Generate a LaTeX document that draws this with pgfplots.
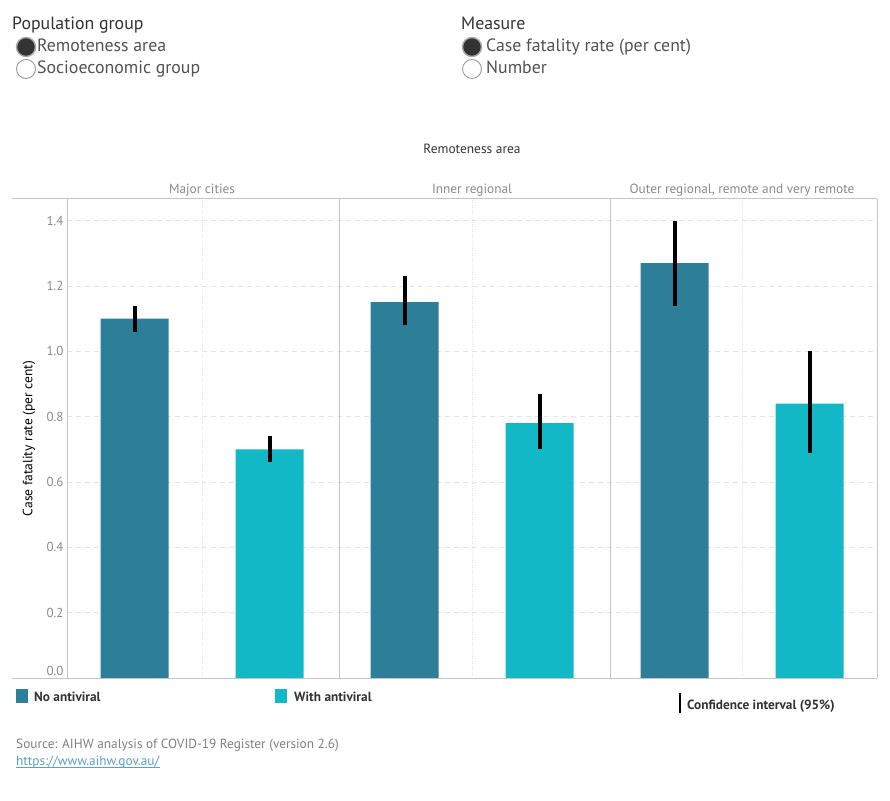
\documentclass[border=0pt]{standalone}
\usepackage{pgfplots}
\pgfplotsset{compat=1.18}
\usepackage{pgfplotstable}
\usepackage{fontspec}
\setmainfont{PT Sans}

\definecolor{noav}{HTML}{2D7E99}
\definecolor{withav}{HTML}{13B8C6}
\definecolor{frame}{HTML}{C4C4C4}
\definecolor{gridc}{HTML}{E4E4E4}
\definecolor{ticktext}{HTML}{8A8A8A}
\definecolor{headtext}{HTML}{333333}
\definecolor{linkc}{HTML}{5A9FC8}

% Case fatality rate (per cent) with 95% confidence limits
% x: panel position (two slots per remoteness area)
\pgfplotstableread{
x    y     lo    hi
0.5  1.10  1.06  1.14
2.5  1.15  1.08  1.23
4.5  1.27  1.14  1.40
}\noantiviral
\pgfplotstableread{
x    y     lo    hi
1.5  0.70  0.66  0.74
3.5  0.78  0.70  0.87
5.5  0.84  0.69  1.00
}\withantiviral

\pgfplotstablecreatecol[expr={\thisrow{hi}-\thisrow{y}}]{ep}{\noantiviral}
\pgfplotstablecreatecol[expr={\thisrow{y}-\thisrow{lo}}]{em}{\noantiviral}
\pgfplotstablecreatecol[expr={\thisrow{hi}-\thisrow{y}}]{ep}{\withantiviral}
\pgfplotstablecreatecol[expr={\thisrow{y}-\thisrow{lo}}]{em}{\withantiviral}

\begin{document}
\begin{tikzpicture}[x=1pt,y=1pt]
\useasboundingbox (0,0) rectangle (890,800);

% parameter controls
\node[anchor=base west,inner sep=0,font=\fontsize{17.8}{20}\selectfont,text=headtext] at (12,770) {Population group};
\node[anchor=base west,inner sep=0,font=\fontsize{17.8}{20}\selectfont,text=headtext!85] at (37,748) {Remoteness area};
\node[anchor=base west,inner sep=0,font=\fontsize{17.8}{20}\selectfont,text=headtext!85] at (37,726) {Socioeconomic group};
\draw[gray!70,fill=headtext,line width=1.4pt] (26,753) circle (9.5);
\draw[gray!80,fill=white,line width=0.9pt] (26,731) circle (9.5);

\node[anchor=base west,inner sep=0,font=\fontsize{17.8}{20}\selectfont,text=headtext] at (461,770) {Measure};
\node[anchor=base west,inner sep=0,font=\fontsize{17.8}{20}\selectfont,text=headtext!85] at (486,748) {Case fatality rate (per cent)};
\node[anchor=base west,inner sep=0,font=\fontsize{17.8}{20}\selectfont,text=headtext!85] at (486,726) {Number};
\draw[gray!70,fill=headtext,line width=1.4pt] (472,753) circle (9.5);
\draw[gray!80,fill=white,line width=0.9pt] (472,731) circle (9.5);

% chart heading and panel headers
\node[anchor=base,inner sep=0,font=\fontsize{13.4}{15}\selectfont,text=headtext] at (472,646) {Remoteness area};
\node[anchor=base,inner sep=0,font=\fontsize{13.3}{15}\selectfont,text=ticktext] at (202,606) {Major cities};
\node[anchor=base,inner sep=0,font=\fontsize{13.3}{15}\selectfont,text=ticktext] at (472,606) {Inner regional};
\node[anchor=base,inner sep=0,font=\fontsize{13.3}{15}\selectfont,text=ticktext] at (742,606) {Outer regional, remote and very remote};

\begin{axis}[
  at={(67pt,122pt)}, anchor=south west,
  scale only axis, width=810pt, height=479pt,
  xmin=0, xmax=6, ymin=0, ymax=1.466,
  axis line style={draw=none},
  major tick length=0pt,
  xtick={1,3,5}, xticklabels={},
  ytick={0,0.2,0.4,0.6,0.8,1.0,1.2,1.4},
  yticklabels={\raisebox{15pt}{0.0},0.2,0.4,0.6,0.8,1.0,1.2,1.4},
  xmajorgrids, ymajorgrids,
  x grid style={gridc, dotted, line width=0.8pt},
  y grid style={gridc, dashed, line width=0.8pt, dash pattern=on 5pt off 4pt},
  yticklabel style={text=ticktext, font=\fontsize{13}{15}\selectfont},
  ylabel={Case fatality rate (per cent)},
  ylabel style={at={(axis description cs:-0.0469,0.5)}, anchor=center,
    font=\fontsize{13.5}{15}\selectfont, text=black},
  ybar, bar width=68pt, bar shift=0pt,
  clip=false,
]
\addplot[fill=noav, draw=none,
  error bars/.cd, y dir=both, y explicit, error mark=none,
  error bar style={line width=4pt, black}]
  table[x=x, y=y, y error plus=ep, y error minus=em] {\noantiviral};
\addplot[fill=withav, draw=none,
  error bars/.cd, y dir=both, y explicit, error mark=none,
  error bar style={line width=4pt, black}]
  table[x=x, y=y, y error plus=ep, y error minus=em] {\withantiviral};
\end{axis}

% panel frame
\draw[frame, line width=1pt] (12,601) -- (877,601);
\draw[frame, line width=1pt] (12,122) -- (877,122);
\foreach \xx in {67,339,610,877} \draw[frame, line width=1pt] (\xx,122) -- (\xx,601);

% legend
\fill[noav] (16,97) rectangle (28,111);
\node[anchor=base west,inner sep=0,font=\fontsize{13.3}{15}\selectfont\bfseries,text=headtext] at (34,99) {No antiviral};
\fill[withav] (275,97) rectangle (287,111);
\node[anchor=base west,inner sep=0,font=\fontsize{13.3}{15}\selectfont\bfseries,text=headtext] at (294,99) {With antiviral};
\draw[black, line width=2pt] (680,87) -- (680,107);
\node[anchor=base west,inner sep=0,font=\fontsize{13.3}{15}\selectfont\bfseries,text=headtext] at (687,91) {Confidence interval (95\%)};

% source note
\node[anchor=base west,inner sep=0,font=\fontsize{13.3}{15}\selectfont,text=gray] at (16,52) {Source: AIHW analysis of COVID-19 Register (version 2.6)};
\node[anchor=base west,inner sep=0,font=\fontsize{13.3}{15}\selectfont,text=linkc] (url) at (16,35) {https://www.aihw.gov.au/};
\draw[linkc, line width=0.6pt] (16,32.5) -- (url.base east |- 0,32.5);
\end{tikzpicture}
\end{document}
